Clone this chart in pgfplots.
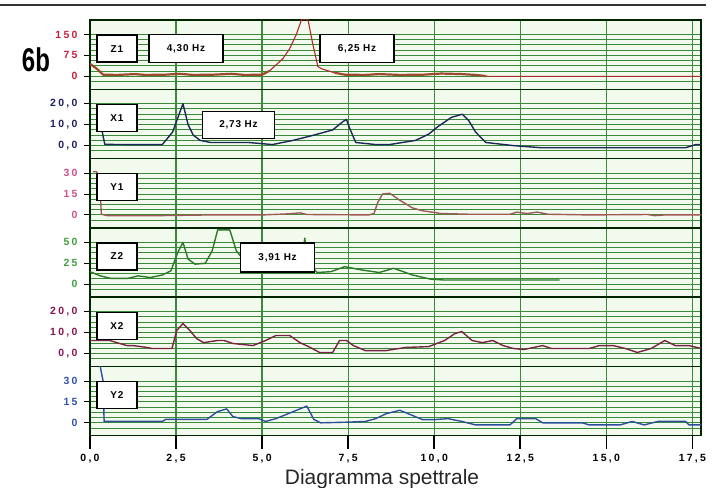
\documentclass[border=0pt]{standalone}
\usepackage{pgfplots}
\pgfplotsset{compat=1.18}
\usepackage{graphicx}
\usepackage{fontspec}
\setmainfont{Liberation Sans}
\newfontfamily\tickfont{Liberation Sans}[LetterSpace=22]
\newfontfamily\boxfont{Liberation Sans}[LetterSpace=8]

\definecolor{gridg}{HTML}{3A8A3A}
\definecolor{bgg}{HTML}{F1FAEC}
\definecolor{lz1}{HTML}{B02A2A}\definecolor{tz1}{HTML}{C8203A}\definecolor{bz1}{HTML}{9C4A2E}
\definecolor{lx1}{HTML}{1C2858}\definecolor{tx1}{HTML}{1C2060}
\definecolor{ly1}{HTML}{A05A5A}\definecolor{ty1}{HTML}{D0508A}
\definecolor{lz2}{HTML}{2A7A2A}\definecolor{tz2}{HTML}{3E9E3E}
\definecolor{lx2}{HTML}{7A2345}\definecolor{tx2}{HTML}{8A1450}
\definecolor{ly2}{HTML}{2E4E9E}\definecolor{ty2}{HTML}{3050B0}

\pgfplotsset{
  panel/.style={
    scale only axis, width=611bp, height=69.3bp,
    anchor=north west,
    xmin=0, xmax=17.75,
    xtick={0,2.5,...,17.5},
    ytick pos=left,
    xmajorgrids=true, ymajorgrids=true, yminorgrids=true,
    major x grid style={draw=gridg, line width=1.3bp},
    major y grid style={draw=gridg, line width=1bp},
    minor y grid style={draw=gridg, line width=1bp},
    tick align=outside,
    major tick length=6bp,
    minor tick length=0pt,
    ytick style={black, line width=0.9bp},
    axis line style={draw=black!85!green, line width=1.4bp},
    axis background/.style={fill=bgg},
    yticklabel style={font=\tickfont\bfseries\fontsize{10.5}{11}\selectfont, xshift=-3bp},
    every axis plot/.append style={line width=1.4bp, line join=round, mark=none},
  },
  upper/.style={panel, xmajorticks=false},
  sc15/.style={ymin=-9.3, ymax=40.4, ytick={0,15,30}, yticklabels={0,15,30},
    minor ytick={-3.75,3.75,7.5,11.25,18.75,22.5,26.25}},
  sc10/.style={ymin=-6.2, ymax=26.9, ytick={0,10,20}, yticklabels={{0,0},{10,0},{20,0}},
    minor ytick={-2.5,2.5,5,7.5,12.5,15,17.5}},
  sc25/.style={ymin=-15.5, ymax=67.3, ytick={0,25,50}, yticklabels={0,25,50},
    minor ytick={-6.25,6.25,12.5,18.75,31.25,37.5,43.75}},
  sc75/.style={ymin=-46.5, ymax=202, ytick={0,75,150}, yticklabels={0,75,150},
    minor ytick={-18.75,18.75,37.5,56.25,93.75,112.5,131.25}},
}
\tikzset{
  lbox/.style={draw=black, line width=1.3bp, fill=white, inner sep=2bp,
    minimum width=40bp, minimum height=27bp,
    font=\boxfont\bfseries\fontsize{10}{10}\selectfont},
  hbox/.style={lbox, minimum width=74bp, minimum height=28bp},
}

\begin{document}
\begin{tikzpicture}
\useasboundingbox (0,0) rectangle (716bp,488bp);
\draw[line width=1.5bp, black!80] (0,483bp) -- (706bp,483bp);
\node[font=\bfseries\fontsize{33}{33}\selectfont, inner sep=0pt] at (36bp,428bp) {\scalebox{0.73}[1]{6b}};

% Z1
\begin{axis}[upper, sc75, at={(90bp,468bp)}, yticklabel style={text=tz1}]
\addplot[lz1, line width=0.9bp] coordinates {
(11.4,1) (11.7,0) (17.75,0)};
\addplot[bz1, line width=2.2bp] coordinates {
(0,45) (0.2,27) (0.38,6) (0.8,5) (1.3,8) (1.6,5) (2.2,6) (2.6,9) (3.0,5) (3.6,6)
(4.1,9) (4.5,5) (5.0,6) (5.22,20)};
\addplot[lz1, line width=1.1bp] coordinates {
(5.22,20) (5.6,63) (5.8,99) (6.0,152) (6.15,205) (6.33,205)
(6.47,117) (6.62,35) (6.73,27) (7.1,13)};
\addplot[bz1, line width=2.2bp] coordinates {
(7.1,13) (7.4,6) (8.0,5) (8.4,8) (9.0,5) (9.7,6)
(10.2,10) (10.8,8) (11.2,5) (11.5,1)};
\node[lbox] at (rel axis cs:0.044,0.587) {Z1};
\node[hbox] at (rel axis cs:0.157,0.587) {4,30 Hz};
\node[hbox] at (rel axis cs:0.437,0.587) {6,25 Hz};
\end{axis}

% X1
\begin{axis}[upper, sc10, at={(90bp,398.7bp)}, yticklabel style={text=tx1}]
\addplot[lx1] coordinates {
(0.25,15) (0.43,0.6) (1.0,0.5) (2.1,0.5) (2.2,2.5) (2.4,6.5) (2.7,20) (2.85,10)
(3.0,5) (3.2,2.5) (3.5,1.5) (4.1,1.5) (4.6,1.5) (5.3,0.5) (5.9,2.5) (6.5,5)
(7.05,7.5) (7.35,11.5) (7.45,12.5) (7.55,8) (7.72,1.5) (8.3,0.5) (8.7,0.5)
(9.46,2.5) (9.84,5.5) (10.1,9) (10.5,13.5) (10.82,15) (11.0,12) (11.2,6.5)
(11.5,1.5) (12.3,0) (13.1,-1) (15,-1) (17.3,-1) (17.6,0.5) (17.75,0.5)};
\node[lbox] at (rel axis cs:0.044,0.587) {X1};
\node[hbox, minimum width=72bp, minimum height=27bp] at (rel axis cs:0.243,0.486) {2,73 Hz};
\end{axis}

% Y1
\begin{axis}[upper, sc15, at={(90bp,329.4bp)}, yticklabel style={text=ty1}]
\addplot[ly1] coordinates {
(0.08,31) (0.2,31) (0.3,15) (0.33,0.5) (0.5,-0.5) (2,-0.5) (3.5,0) (5,0)
(5.8,0.8) (6.1,1.5) (6.3,0.3) (8.1,0) (8.25,1) (8.36,9) (8.5,15) (8.71,15.5)
(8.97,11) (9.37,5) (9.66,3) (10.2,1) (11,0.5) (12.2,0.5) (12.4,2) (12.7,1)
(13.0,2) (13.3,0.5) (14.5,0) (16.2,0.3) (16.4,-0.5) (16.7,0) (17.75,0)};
\node[lbox] at (rel axis cs:0.044,0.587) {Y1};
\end{axis}

% Z2
\begin{axis}[upper, sc25, at={(90bp,260.1bp)}, yticklabel style={text=tz2}]
\addplot[lz2] coordinates {
(0,15) (0.3,10) (0.6,7) (1.1,7) (1.4,10) (1.75,8) (2.1,11) (2.35,16) (2.55,38)
(2.7,50) (2.85,30) (3.05,24) (3.35,25) (3.55,40) (3.71,65) (4.06,65) (4.25,40)
(4.5,27) (4.8,20) (5.3,15) (5.9,17) (6.15,30) (6.24,55) (6.32,25) (6.6,14)
(7.0,15) (7.4,21) (7.9,17) (8.4,14) (8.82,19) (9.1,15) (9.37,11) (9.9,6)
(10.3,5) (12,5) (13.64,5)};
\node[lbox] at (rel axis cs:0.044,0.587) {Z2};
\node[hbox, minimum height=29bp] at (rel axis cs:0.307,0.572) {3,91 Hz};
\end{axis}

% X2
\begin{axis}[upper, sc10, at={(90bp,190.8bp)}, yticklabel style={text=tx2}]
\addplot[lx2] coordinates {
(0,6.2) (0.58,6.2) (0.78,5.2) (1.07,3.8) (1.25,3.8) (1.65,2.9) (1.8,2.4)
(2.38,2.4) (2.52,11) (2.7,14.3) (2.9,11) (3.1,7.1) (3.3,5.2) (3.7,6.2) (3.9,6.2)
(4.15,4.8) (4.73,3.8) (5.1,6.2) (5.4,8.6) (5.8,8.6) (6.1,5.2) (6.4,2.9)
(6.67,0.5) (7.05,0.5) (7.25,6.2) (7.45,6.2) (7.65,3.8) (8.0,1.4) (8.6,1.4)
(9.17,2.9) (9.84,3.3) (10.3,6.2) (10.6,9.5) (10.8,10.5) (11.1,6.2) (11.4,5.2)
(11.7,6.2) (12.0,3.8) (12.3,2.4) (12.6,1.9) (13.15,3.8) (13.4,2.4) (14.5,2.4)
(14.8,3.8) (15.2,3.8) (15.55,2.4) (15.9,0.5) (16.3,2.4) (16.7,6.2) (17.0,3.8)
(17.4,3.8) (17.75,2.4)};
\node[lbox] at (rel axis cs:0.044,0.587) {X2};
\end{axis}

% Y2
\begin{axis}[panel, sc15, at={(90bp,121.5bp)}, yticklabel style={text=ty2},
  xtick pos=left,
  xtick style={draw=none},
  xticklabels={{0,0},{2,5},{5,0},{7,5},{10,0},{12,5},{15,0},{17,5}},
  xticklabel style={font=\tickfont\bfseries\fontsize{10.5}{11}\selectfont, text=black, yshift=-9bp}]
\addplot[ly2] coordinates {
(0.26,45) (0.38,30) (0.41,1) (2.1,1) (2.2,2.5) (3.4,2.5) (3.7,8) (3.97,10)
(4.15,4.5) (4.4,3) (4.9,3) (5.1,1) (5.4,3) (5.7,6) (6.0,9) (6.3,12) (6.5,2.5)
(6.7,0) (7.5,0.5) (8.0,1) (8.3,3) (8.6,6.5) (9.0,9) (9.3,6) (9.66,2.3) (10.0,2.3)
(10.4,3) (10.8,1) (11.2,-1.5) (12.2,-1.5) (12.4,3) (12.95,3) (13.15,0) (14.3,0)
(14.5,-1.5) (15.4,-1.5) (15.75,1) (16.1,-1.5) (16.5,1) (17.3,1) (17.4,-1.5)
(17.75,-1.5)};
\node[lbox] at (rel axis cs:0.044,0.587) {Y2};
\end{axis}
% long tick marks below the lowest panel, as filled bars
\foreach \t in {0,2.5,5,7.5,10,12.5,15,17.5}{
  \pgfmathsetmacro{\tx}{90+611*\t/17.75}
  \fill[black] (\tx bp-0.8bp,52.2bp) rectangle (\tx bp+0.8bp,38.5bp);
}

\node[anchor=base, font=\fontsize{21}{21}\selectfont, text=black!85, inner sep=0pt] at (382bp,3.5bp) {Diagramma spettrale};
\end{tikzpicture}
\end{document}
